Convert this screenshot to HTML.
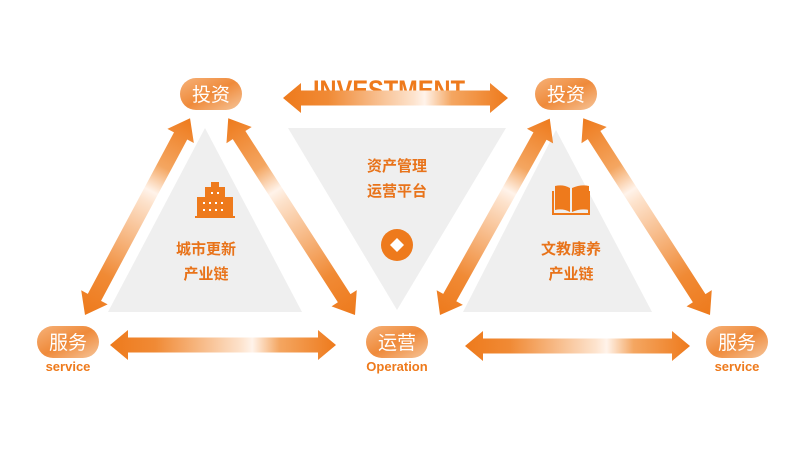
<!DOCTYPE html>
<html><head><meta charset="utf-8"><style>
html,body{margin:0;padding:0;background:#fff;width:800px;height:457px;overflow:hidden}
text{font-family:"Liberation Sans","Noto Sans CJK SC",sans-serif}
</style></head><body>
<svg width="800" height="457" viewBox="0 0 800 457" xmlns="http://www.w3.org/2000/svg">
<defs>
<linearGradient id="ag" x1="0" y1="0" x2="1" y2="0">
<stop offset="0" stop-color="#ee7a1c"/><stop offset="0.2" stop-color="#f08a35"/><stop offset="0.58" stop-color="#fde3cd"/><stop offset="0.63" stop-color="#fff3ea"/><stop offset="0.75" stop-color="#f4a661"/><stop offset="1" stop-color="#ee7a1c"/>
</linearGradient>
<linearGradient id="pg" x1="0" y1="0" x2="1" y2="1">
<stop offset="0" stop-color="#f6b27a"/><stop offset="0.5" stop-color="#ef8a3a"/><stop offset="1" stop-color="#f6c59a"/>
</linearGradient>
</defs>
<polygon points="205,128 108,312 302,312" fill="#efefef"/>
<polygon points="288,128 506,128 397,310" fill="#efefef"/>
<polygon points="556,130 463,312 652,312" fill="#efefef"/>
<text x="389" y="99" font-size="27" font-weight="bold" fill="#ee7a1c" text-anchor="middle" font-family="Liberation Sans Narrow, Liberation Sans" textLength="152" lengthAdjust="spacingAndGlyphs">INVESTMENT</text>
<g>
<g transform="translate(283,98)"><polygon points="0,0 18,-15 18,-7.5 207,-7.5 207,-15 225,0 207,15 207,7.5 18,7.5 18,15" fill="url(#ag)"/></g>
<g transform="translate(110,345)"><polygon points="0,0 18,-15 18,-7.5 208,-7.5 208,-15 226,0 208,15 208,7.5 18,7.5 18,15" fill="url(#ag)"/></g>
<g transform="translate(465,346)"><polygon points="0,0 18,-15 18,-7.5 207,-7.5 207,-15 225,0 207,15 207,7.5 18,7.5 18,15" fill="url(#ag)"/></g>
<g transform="translate(85,315) rotate(-61.9)"><polygon points="0,0 20,-15 20,-7.5 203,-7.5 203,-15 223,0 203,15 203,7.5 20,7.5 20,15" fill="url(#ag)"/></g>
<g transform="translate(355,315) rotate(-122.8)"><polygon points="0,0 20,-15 20,-7.5 214,-7.5 214,-15 234,0 214,15 214,7.5 20,7.5 20,15" fill="url(#ag)"/></g>
<g transform="translate(440,315) rotate(-60.8)"><polygon points="0,0 20,-15 20,-7.5 205,-7.5 205,-15 225,0 205,15 205,7.5 20,7.5 20,15" fill="url(#ag)"/></g>
<g transform="translate(710,315) rotate(-122.8)"><polygon points="0,0 20,-15 20,-7.5 214,-7.5 214,-15 234,0 214,15 214,7.5 20,7.5 20,15" fill="url(#ag)"/></g>
</g>
<g font-size="19" fill="#fff" text-anchor="middle">
<rect x="180" y="78" width="62" height="32" rx="16" fill="url(#pg)"/><text x="211" y="101">投资</text>
<rect x="535" y="78" width="62" height="32" rx="16" fill="url(#pg)"/><text x="566" y="101">投资</text>
<rect x="37" y="326" width="62" height="32" rx="16" fill="url(#pg)"/><text x="68" y="349">服务</text>
<rect x="366" y="326" width="62" height="32" rx="16" fill="url(#pg)"/><text x="397" y="349">运营</text>
<rect x="706" y="326" width="62" height="32" rx="16" fill="url(#pg)"/><text x="737" y="349">服务</text>
</g>
<g font-size="12" font-weight="bold" fill="#ee7a1c" text-anchor="middle" font-family="Liberation Sans Narrow, Liberation Sans">
<text x="68" y="371" font-size="13">service</text><text x="397" y="371" font-size="13">Operation</text><text x="737" y="371" font-size="13">service</text>
</g>
<g font-size="15" fill="#e8731a" text-anchor="middle" font-weight="bold">
<text x="206" y="254">城市更新</text><text x="206" y="279">产业链</text>
<text x="397" y="171">资产管理</text><text x="397" y="196">运营平台</text>
<text x="571" y="254">文教康养</text><text x="571" y="279">产业链</text>
</g>
<g fill="#ee7a1c">
<rect x="197" y="197" width="36" height="20"/><rect x="205" y="187" width="20" height="12"/><rect x="211" y="182" width="8" height="6"/><rect x="195" y="216" width="40" height="2"/>
<g fill="#fff"><rect x="203" y="202" width="2" height="2"/><rect x="209" y="202" width="2" height="2"/><rect x="215" y="202" width="2" height="2"/><rect x="221" y="202" width="2" height="2"/><rect x="203" y="209" width="2" height="2"/><rect x="209" y="209" width="2" height="2"/><rect x="215" y="209" width="2" height="2"/><rect x="221" y="209" width="2" height="2"/><rect x="211" y="192" width="2" height="2"/><rect x="217" y="192" width="2" height="2"/></g>
<path d="M555,186 Q563,184 570,188 L570,212 Q563,208 555,210 Z"/><path d="M589,186 Q581,184 572,188 L572,212 Q581,208 589,210 Z"/>
<path d="M552,191 L552,215 L590,215 L590,191 L588,191 L588,213 L554,213 L554,191 Z"/>
<circle cx="397" cy="245" r="16"/>
</g>
<polygon points="397,238 404,245 397,252 390,245" fill="#fff"/>
</svg>
</body></html>
